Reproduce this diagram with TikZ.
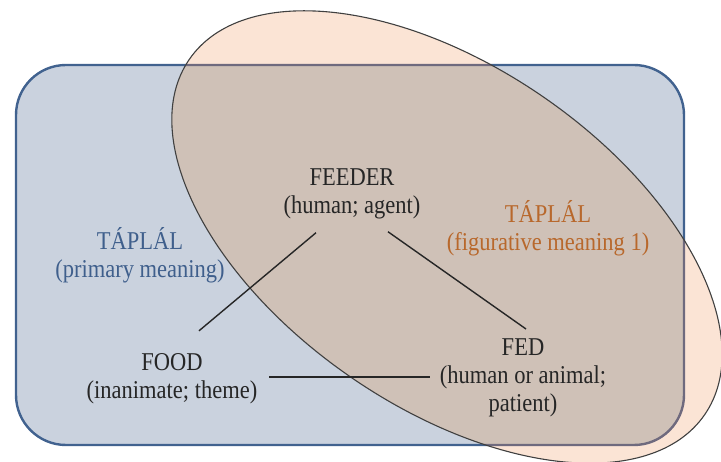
\documentclass[tikz,border=0pt]{standalone}
\usepackage{fontspec}
\usepackage{graphicx}
\setmainfont{Liberation Serif}
\definecolor{rectfill}{HTML}{CAD2DE}
\definecolor{rectline}{HTML}{41628F}
\definecolor{peach}{HTML}{FBE4D5}
\definecolor{overlap}{HTML}{CFC1B7}
\definecolor{mixline}{HTML}{6F6A7E}
\definecolor{bluetxt}{HTML}{3F5F8C}
\definecolor{orangetxt}{HTML}{B8682C}
\definecolor{darktxt}{HTML}{262626}
\newcommand{\vs}[1]{\scalebox{1}[1.14]{#1}}
\begin{document}
\begin{tikzpicture}[x=1pt,y=-1pt,
  lbl/.style={inner sep=0pt, align=center, anchor=base,
    font=\fontsize{22.5pt}{28pt}\selectfont},
  conn/.style={draw=black!85, line width=1.4pt},
  ell/.style={shift={(447,237)}, rotate=-34.6}]
\useasboundingbox (0,0) rectangle (721,462);
% shapes
\def\rectpath{(16,65) rectangle (684,445)}
\def\ellpath{(0,0) ellipse [x radius=313pt, y radius=170pt]}
\fill[rectfill, rounded corners=50pt] \rectpath;
\draw[rectline, line width=2.4pt, rounded corners=50pt] \rectpath;
\fill[peach, ell] \ellpath;
\begin{scope}
  \clip[rounded corners=50pt] \rectpath;
  \fill[overlap, ell] \ellpath;
\end{scope}
\begin{scope}
  \clip[ell] \ellpath;
  \draw[mixline, line width=2.4pt, rounded corners=50pt] \rectpath;
\end{scope}
\draw[black!75, line width=1.1pt, ell] \ellpath;
% labels
\node[lbl, text=darktxt] (feeder) at (352,214) {\vs{FEEDER}\\\vs{(human; agent)}};
\node[lbl, text=bluetxt] (tapblue) at (140,278) {\vs{TÁPLÁL}\\\vs{(primary meaning)}};
\node[lbl, text=orangetxt] (taporange) at (548,251) {\vs{TÁPLÁL}\\\vs{(figurative meaning 1)}};
\node[lbl, text=darktxt] (food) at (172,399) {\vs{FOOD}\\\vs{(inanimate; theme)}};
\node[lbl, text=darktxt] (fed) at (523,412) {\vs{FED}\\\vs{(human or animal;}\\\vs{patient)}};
% connectors
\draw[conn] ([xshift=-36pt,yshift=-13pt]feeder.south) -- ([xshift=27pt,yshift=23pt]food.north);
\draw[conn] ([xshift=36pt,yshift=-12pt]feeder.south) -- ([xshift=3pt,yshift=10pt]fed.north);
\draw[conn] ([xshift=12pt]food.east |- 0,377) -- ([xshift=-10pt]fed.west |- 0,377);
\end{tikzpicture}
\end{document}
